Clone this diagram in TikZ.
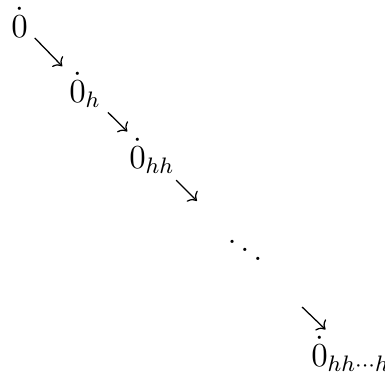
\documentclass[tikz,border=0pt]{standalone}
\usetikzlibrary{arrows.meta}

\begin{document}
\begin{tikzpicture}[
    x=0.357pt,
    y=-0.357pt,
    font=\large,
    entry/.style={
        inner sep=1.4pt,
        anchor=base west
    },
    dotsentry/.style={
        inner sep=0pt,
        anchor=base
    },
    steparrow/.style={
        -{Computer Modern Rightarrow},
        line width=0.45pt,
        shorten <=1.3pt,
        shorten >=1.3pt
    }
]
\useasboundingbox (0,0) rectangle (385,374);

% --- Entries along the diagonal ---------------------------------------------
\node[entry] (zero)   at (6.8, 37)    {$\dot{0}$};
\node[entry] (zeroh)  at (64.8, 102)  {$\dot{0}_h$};
\node[entry] (zerohh) at (124.8, 168) {$\dot{0}_{hh}$};
\node[dotsentry] (gapdots) at (245, 263) {$\ddots$};
\node[entry] (zerolast) at (306.8, 366) {$\dot{0}_{hh\cdots h}$};

% --- Open ends of the arrows round the dots ---------------------------------
\coordinate (gapin)  at (199.5, 203.5);
\coordinate (gapout) at (299.5, 304.5);

% --- Arrows -----------------------------------------------------------------
\draw[steparrow] (zero) -- (zeroh);
\draw[steparrow] (zeroh) -- (zerohh);
\draw[steparrow] (zerohh) -- (gapin);
\draw[steparrow] (gapout) -- (zerolast);

\end{tikzpicture}
\end{document}
